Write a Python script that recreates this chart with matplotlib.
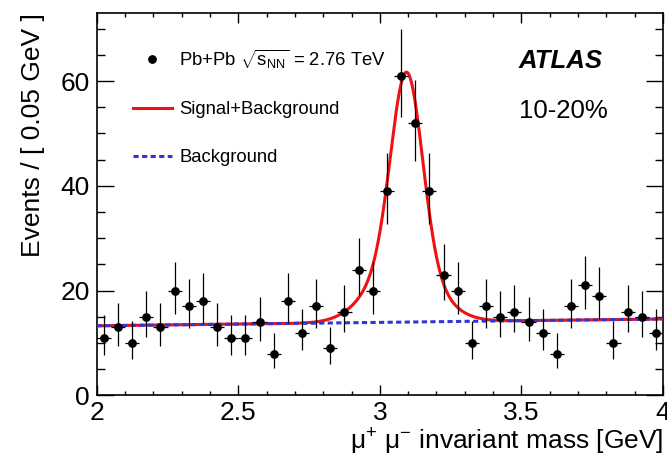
"""
ATLAS J/psi -> mu+ mu- invariant mass, Pb+Pb 2.76 TeV, centrality 10-20%
"""
import numpy as np
import matplotlib
matplotlib.use("Agg")
import matplotlib.pyplot as plt
from matplotlib.lines import Line2D
from matplotlib.ticker import MultipleLocator

plt.rcParams["font.family"] = ["Liberation Sans", "DejaVu Sans"]
plt.rcParams["mathtext.fontset"] = "custom"
plt.rcParams["mathtext.rm"] = "Liberation Sans"
plt.rcParams["mathtext.it"] = "Liberation Sans:italic"
plt.rcParams["mathtext.bf"] = "Liberation Sans:bold"

# binning: 40 bins of 0.05 GeV between 2 and 4 GeV
BIN_WIDTH = 0.05
bin_centers = np.arange(2.025, 4.0, BIN_WIDTH)
counts = np.array([11, 13, 10, 15, 13, 20, 17, 18, 13, 11,
                   11, 14, 8, 18, 12, 17, 9, 16, 24, 20,
                   39, 61, 52, 39, 23, 20, 10, 17, 15, 16,
                   14, 12, 8, 17, 21, 19, 10, 16, 15, 12])

# fit model
BKG_AT_2GEV  = 13.3
BKG_SLOPE    = 0.65
SIG_AMP      = 47.8
MASS_PEAK    = 3.095
SIGMA_CORE   = 0.055
SIGMA_WIDE   = 0.11
WIDE_SHIFT   = -0.015
FRAC_WIDE    = 0.25

RED  = "#f01212"
BLUE = "#3434d6"


def background(m):
    return BKG_AT_2GEV + BKG_SLOPE * (m - 2.0)


def signal(m):
    core = np.exp(-0.5 * ((m - MASS_PEAK) / SIGMA_CORE) ** 2)
    wide = np.exp(-0.5 * ((m - MASS_PEAK - WIDE_SHIFT) / SIGMA_WIDE) ** 2)
    return SIG_AMP * ((1 - FRAC_WIDE) * core + FRAC_WIDE * wide)


# asymmetric Poisson errors (Gehrels approximation)
n = counts.astype(float)
err_hi = np.sqrt(n + 0.75) + 1.0
err_lo = n - n * (1 - 1 / (9 * n) - 1 / (3 * np.sqrt(n))) ** 3

fig = plt.figure(figsize=(6.67, 4.55), dpi=100)
ax = fig.add_axes([0.145, 0.1308, 0.849, 0.8407])

m = np.linspace(2.0, 4.0, 1000)
ax.plot(m, signal(m) + background(m), color=RED, lw=2.2, zorder=3)
ax.plot(m, background(m), color=BLUE, lw=2.2, ls=(0, (1.7, 1.1)), zorder=4)

ax.errorbar(bin_centers, counts, yerr=[err_lo, err_hi], xerr=BIN_WIDTH / 2,
            fmt="o", color="black", ms=5.3, elinewidth=0.9, capsize=0, zorder=5)

ax.set_xlim(2, 4)
ax.set_ylim(0, 73)
ax.xaxis.set_major_locator(MultipleLocator(0.5))
ax.xaxis.set_minor_locator(MultipleLocator(0.1))
ax.yaxis.set_major_locator(MultipleLocator(20))
ax.yaxis.set_minor_locator(MultipleLocator(5))
ax.set_xticks([2, 2.5, 3, 3.5, 4], ["2", "2.5", "3", "3.5", "4"])

ax.tick_params(which="both", direction="in", top=True, right=True,
               labelsize=19, width=1.0, color="black")
ax.tick_params(axis="x", which="major", length=7.2, pad=4)
ax.tick_params(axis="x", which="minor", length=3.2)
ax.tick_params(axis="y", which="major", length=12, pad=5)
ax.tick_params(axis="y", which="minor", length=6)
for sp in ax.spines.values():
    sp.set_linewidth(1.2)

ax.set_xlabel(r"$\mathrm{\mu^{+}\ \mu^{-}}$ invariant mass [GeV]",
              fontsize=19, loc="right", labelpad=1)
ax.set_ylabel("Events / [ 0.05 GeV ]", fontsize=19, loc="top", labelpad=11)

ax.text(0.745, 0.8745, "ATLAS", transform=ax.transAxes, fontsize=18.5,
        fontweight="bold", fontstyle="italic", ha="left", va="center")
ax.text(0.745, 0.744, "10-20%", transform=ax.transAxes, fontsize=18.5,
        ha="left", va="center")

handles = [
    Line2D([], [], marker="o", color="black", ls="none", ms=5.3),
    Line2D([], [], color=RED, lw=2.2),
    Line2D([], [], color=BLUE, lw=2.2, ls=(0, (1.7, 1.1))),
]
labels = [r"Pb+Pb $\sqrt{\mathrm{s_{NN}}}$ = 2.76 TeV",
          "Signal+Background", "Background"]
ax.legend(handles, labels, loc="upper left", bbox_to_anchor=(0.064, 0.91),
          frameon=False, fontsize=13.3, borderpad=0, borderaxespad=0,
          handlelength=2.1, handletextpad=0.4, labelspacing=1.67)

fig.savefig("out.png", dpi=100)
